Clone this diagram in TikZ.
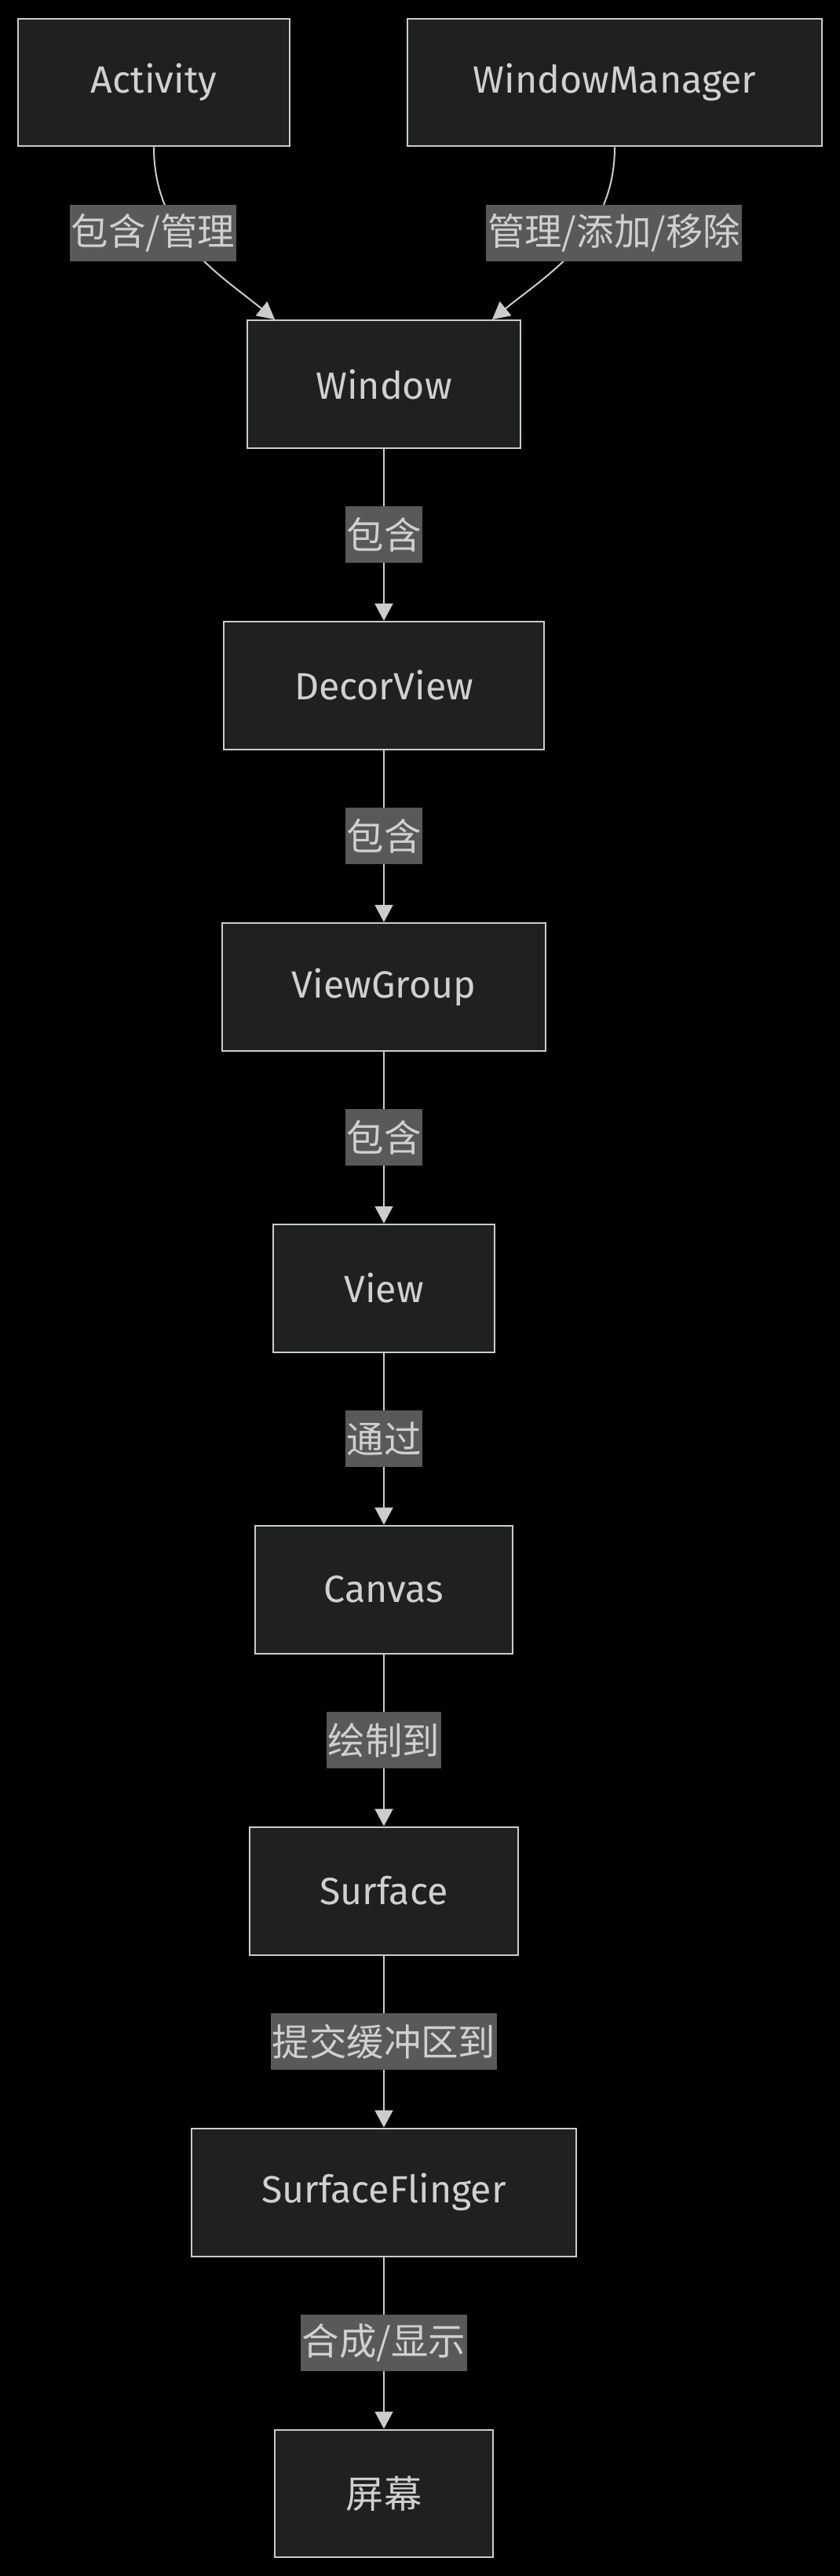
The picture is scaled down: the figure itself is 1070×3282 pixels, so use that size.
\documentclass[tikz,border=0pt]{standalone}
\usepackage{fontspec}
\setmainfont{Fira Sans}
\newfontfamily\cjk{Noto Sans CJK SC}
\usetikzlibrary{positioning, arrows.meta}

\definecolor{nodefill}{HTML}{1F2020}
\definecolor{linegray}{HTML}{CCCCCC}
\definecolor{labelfill}{HTML}{595959}
\definecolor{textgray}{HTML}{D0D0D0}

\tikzset{
	box/.style={draw=linegray, line width=0.04cm, fill=nodefill, text=textgray,
		minimum height=3.26cm, font=\fontsize{27.5}{32}\selectfont},
	lbl/.style={fill=labelfill, text=textgray, inner xsep=0.04cm, inner ysep=0cm,
		minimum height=1.44cm, font=\cjk\fontsize{27}{32}\selectfont},
	flow/.style={->, color=linegray, line width=0.04cm},
}

\begin{document}
\begin{tikzpicture}[x=0.02cm, y=-0.02cm, >={Triangle[length=0.44cm, width=0.46cm]}]
	\fill[black] (0,0) rectangle (1070,3282);
	\useasboundingbox (0,0) rectangle (1070,3282);

	\node[box, minimum width=6.92cm] (act) at (196,105) {Activity};
	\node[box, minimum width=10.56cm] (wm) at (783,105) {WindowManager};
	\node[box, minimum width=6.96cm] (win) at (489,489.5) {Window};
	\node[box, minimum width=8.16cm, below=4.38cm of win] (decor) {DecorView};
	\node[box, minimum width=8.24cm, below=4.38cm of decor] (vg) {ViewGroup};
	\node[box, minimum width=5.64cm, below=4.38cm of vg] (view) {View};
	\node[box, minimum width=6.56cm, below=4.38cm of view] (canvas) {Canvas};
	\node[box, minimum width=6.84cm, below=4.38cm of canvas] (surf) {Surface};
	\node[box, minimum width=9.80cm, below=4.38cm of surf] (sf) {SurfaceFlinger};
	\node[box, minimum width=5.56cm, below=4.38cm of sf] (scr) {\cjk 屏幕};

	\draw[flow] (act.south) .. controls +(0,113) and +(-71,-58) .. ([xshift=0.72cm]win.north west);
	\draw[flow] (wm.south) .. controls +(0,113) and +(71,-58) .. ([xshift=-0.74cm]win.north east);
	\node[lbl] (l1) at (195,297) {包含/管理};
	\node[lbl] (l2) at (782,297) {管理/添加/移除};

	\draw [flow]
		(win) edge node[lbl]{包含} (decor)
		(decor) edge node[lbl]{包含} (vg)
		(vg) edge node[lbl]{包含} (view)
		(view) edge node[lbl]{通过} (canvas)
		(canvas) edge node[lbl]{绘制到} (surf)
		(surf) edge node[lbl]{提交缓冲区到} (sf)
		(sf) edge node[lbl]{合成/显示} (scr)
		;
\end{tikzpicture}
\end{document}
